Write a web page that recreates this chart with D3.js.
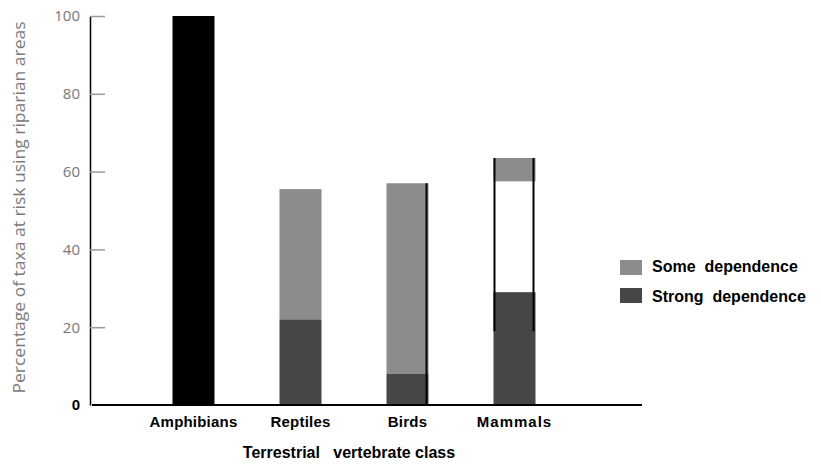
<!DOCTYPE html>
<html>
<head>
<meta charset="utf-8">
<script src="https://d3js.org/d3.v7.min.js"></script>
<style>
  body { margin: 0; background: #fff; }
  svg text { font-family: "Liberation Sans", Arial, sans-serif; }
</style>
</head>
<body>
<svg id="chart" width="821" height="466"></svg>
<script>
// data (percent of taxa)
const categories = ['Amphibians', 'Reptiles', 'Birds', 'Mammals'];
const totalValues = [100, 0, 0, 0];          // solid black bar
const strongValues = [0, 22, 8, 29];
const someLow = [0, 22, 8, 57.5];
const someHigh = [0, 55.5, 57, 63.5];
const edgeLow = [null, null, 0, 19];          // black outline lines
const edgeHigh = [null, null, 57, 63.5];
const edgeSides = [[], [], ['right'], ['left', 'right']];
const yTicks = [0, 20, 40, 60, 80, 100];
const legendLabels = ['Some  dependence', 'Strong  dependence'];

const svg = d3.select('#chart');
const colSome = '#8c8c8c', colStrong = '#464646';

const y = d3.scaleLinear().domain([0, 100]).range([405, 16]);
const x = d3.scalePoint().domain(categories).range([140, 568]).padding(0.5);
const bw = 42;

// y axis
const yAxis = svg.append('g')
    .attr('transform', 'translate(90,0)')
    .call(d3.axisLeft(y).tickValues(yTicks).tickSizeInner(-15).tickSizeOuter(0).tickPadding(10));
yAxis.select('.domain').attr('stroke', '#000').attr('stroke-width', 1.5);
yAxis.selectAll('.tick line').attr('stroke', '#999').attr('stroke-width', 1.5);
yAxis.selectAll('.tick text')
    .attr('fill', '#777')
    .style('font-family', '"Open Sans", sans-serif')
    .style('font-size', '15px');
yAxis.selectAll('.tick').filter(d => d === 0).select('line').remove();
yAxis.selectAll('.tick').filter(d => d === 0).select('text')
    .attr('fill', '#000').style('font-family', '"Liberation Sans", Arial, sans-serif')
    .style('font-weight', 'bold').style('font-size', '15px');

svg.append('text')
    .attr('transform', 'translate(25,' + ((y(0) + y(100)) / 2 - 3) + ') rotate(-90)')
    .attr('text-anchor', 'middle')
    .attr('fill', '#7a7a7a')
    .style('font-family', '"Open Sans", sans-serif')
    .style('font-size', '17px')
    .attr('textLength', 372)
    .attr('lengthAdjust', 'spacingAndGlyphs')
    .text('Percentage of taxa at risk using riparian areas');

const idx = categories.map((c, i) => i);

// bars
svg.selectAll('rect.total').data(idx.filter(i => totalValues[i] > 0)).join('rect')
    .attr('x', i => x(categories[i]) - bw / 2)
    .attr('y', i => y(totalValues[i]))
    .attr('width', bw)
    .attr('height', i => y(0) - y(totalValues[i]))
    .attr('fill', '#000');

svg.selectAll('rect.some').data(idx.filter(i => someHigh[i] > someLow[i])).join('rect')
    .attr('x', i => x(categories[i]) - bw / 2)
    .attr('y', i => y(someHigh[i]))
    .attr('width', bw)
    .attr('height', i => y(someLow[i]) - y(someHigh[i]))
    .attr('fill', colSome);

svg.selectAll('rect.strong').data(idx.filter(i => strongValues[i] > 0)).join('rect')
    .attr('x', i => x(categories[i]) - bw / 2)
    .attr('y', i => y(strongValues[i]))
    .attr('width', bw)
    .attr('height', i => y(0) - y(strongValues[i]))
    .attr('fill', colStrong);

// outline edges
const edges = [];
idx.forEach(i => edgeSides[i].forEach(s => edges.push({ i, s })));
svg.selectAll('line.edge').data(edges).join('line')
    .attr('x1', d => x(categories[d.i]) + (d.s === 'left' ? -bw / 2 + 1 : bw / 2 - 2))
    .attr('x2', d => x(categories[d.i]) + (d.s === 'left' ? -bw / 2 + 1 : bw / 2 - 2))
    .attr('y1', d => y(edgeHigh[d.i]))
    .attr('y2', d => y(edgeLow[d.i]))
    .attr('stroke', '#000')
    .attr('stroke-width', 2);

// x axis
svg.append('line')
    .attr('x1', 92).attr('x2', 642).attr('y1', y(0)).attr('y2', y(0))
    .attr('stroke', '#000').attr('stroke-width', 2);

svg.selectAll('text.xlab').data(categories).join('text')
    .attr('x', d => x(d))
    .attr('y', 427)
    .attr('text-anchor', 'middle')
    .style('font-weight', 'bold')
    .style('font-size', '15px')
    .style('letter-spacing', d => d === 'Mammals' ? '1px' : '0.2px')
    .text(d => d);

svg.append('text')
    .attr('x', 349).attr('y', 458)
    .attr('text-anchor', 'middle')
    .style('font-weight', 'bold')
    .style('font-size', '16px')
    .style('white-space', 'pre')
    .attr('xml:space', 'preserve')
    .text('Terrestrial   vertebrate class');

// legend
const legend = svg.append('g').attr('transform', 'translate(620,260)');
legend.selectAll('rect').data(legendLabels).join('rect')
    .attr('x', 0).attr('y', (d, i) => i * 28)
    .attr('width', 22).attr('height', 15)
    .attr('fill', (d, i) => i === 0 ? colSome : colStrong);
legend.selectAll('text').data(legendLabels).join('text')
    .attr('x', 32).attr('y', (d, i) => 12 + i * 30)
    .style('font-weight', 'bold')
    .style('font-size', '16px')
    .style('white-space', 'pre')
    .attr('xml:space', 'preserve')
    .text(d => d);
</script>
</body>
</html>
